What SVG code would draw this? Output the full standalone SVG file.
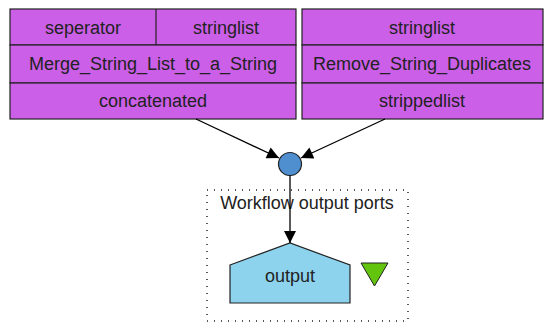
<svg xmlns="http://www.w3.org/2000/svg" width="546" height="325" viewBox="0 0 546 325">
<style>
.box{fill:#cc5fe8;stroke:#222;stroke-width:1.2}
.t{font-family:"Liberation Sans",Arial,sans-serif;font-size:18px;fill:#222;text-anchor:middle;dominant-baseline:central}
.edge{stroke:#000;stroke-width:1.3;fill:none}
</style>
<defs>
<marker id="ah" viewBox="0 0 10 10" refX="10" refY="5" markerWidth="13" markerHeight="12" markerUnits="userSpaceOnUse" orient="auto">
<path d="M0,0 L10,5 L0,10 z" fill="#000"/>
</marker>
</defs>
<rect width="546" height="325" fill="#fff"/>
<g id="merge">
<rect class="box" x="10" y="9" width="286" height="36"/>
<line x1="156" y1="9" x2="156" y2="45" stroke="#222" stroke-width="1.2"/>
<rect class="box" x="10" y="45" width="286" height="38"/>
<rect class="box" x="10" y="83" width="286" height="36"/>
<text class="t" x="83" y="28">seperator</text>
<text class="t" x="226" y="28">stringlist</text>
<text class="t" x="153" y="64">Merge_String_List_to_a_String</text>
<text class="t" x="153" y="101">concatenated</text>
</g>
<g id="remove">
<rect class="box" x="302" y="9" width="241" height="36"/>
<rect class="box" x="302" y="45" width="241" height="38"/>
<rect class="box" x="302" y="83" width="241" height="36"/>
<text class="t" x="422" y="28">stringlist</text>
<text class="t" x="422" y="64">Remove_String_Duplicates</text>
<text class="t" x="422" y="101">strippedlist</text>
</g>
<g id="merge_point">
<circle cx="290" cy="164" r="11.5" fill="#4f8fd0" stroke="#222" stroke-width="1.2"/>
</g>
<g id="outputs_cluster">
<rect x="207" y="190" width="201" height="131" fill="none" stroke="#222" stroke-width="1.5" stroke-dasharray="1,6"/>
<text class="t" x="307" y="203">Workflow output ports</text>
</g>
<g id="output">
<path d="M230,265 L290,243 L350,265 L350,303 L230,303 z" fill="#8dd3ee" stroke="#222" stroke-width="1.2"/>
<text class="t" x="290" y="276">output</text>
<path d="M361,263 L388,263 L374.5,286 z" fill="#62c40c" stroke="#222" stroke-width="1"/>
</g>
<g id="connectors">
<line class="edge" x1="196" y1="119" x2="279" y2="158" marker-end="url(#ah)"/>
<line class="edge" x1="385" y1="119" x2="301" y2="158" marker-end="url(#ah)"/>
<line class="edge" x1="290" y1="175.5" x2="290" y2="243" marker-end="url(#ah)"/>
</g>
</svg>
